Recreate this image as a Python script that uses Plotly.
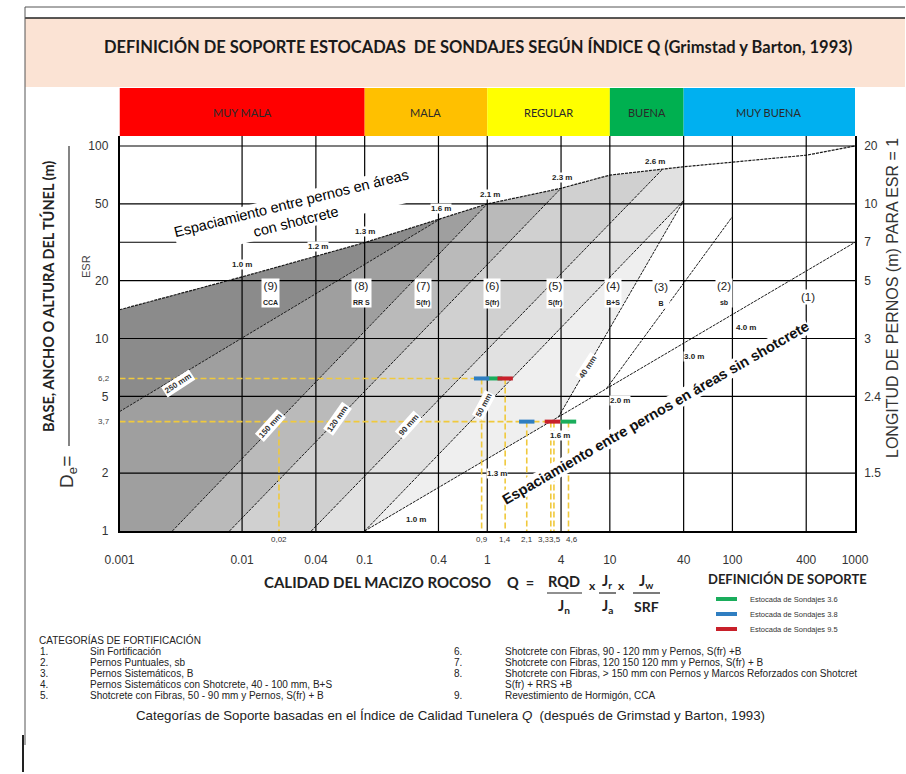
import math
import plotly.graph_objects as go

W, H = 906, 774

# ---------------- data ----------------
q_tick_vals = [0.001, 0.01, 0.04, 0.1, 0.4, 1, 4, 10, 40, 100, 400, 1000]
q_tick_text = ["0.001", "0.01", "0.04", "0.1", "0.4", "1", "4", "10", "40", "100", "400", "1000"]
q_grid = [0.01, 0.04, 0.1, 0.4, 1, 4, 10, 40, 100, 400]

de_tick_vals = [1, 2, 5, 10, 20, 50, 100]
de_tick_text = ["1", "2", "5", "10", "20", "50", "100"]
de_grid = [2, 5, 10, 20, 31.62, 50, 100]

bolt_tick_de = [100, 50, 31.62, 20, 10, 5, 2]
bolt_tick_text = ["20", "10", "7", "5", "3", "2.4", "1.5"]

quality_names = ["MUY MALA", "MALA", "REGULAR", "BUENA", "MUY BUENA"]
quality_edges = [0.001, 0.1, 1, 10, 40, 1000]
quality_colors = ["#ff0000", "#ffc000", "#ffff00", "#00b050", "#00b0f0"]

# upper envelope: bolt spacing in shotcreted areas
env_q = [0.001, 0.01, 0.1, 1, 4, 10, 40, 100, 400, 1000]
env_de = [14.1, 20.9, 31.5, 50, 60.3, 70.6, 78, 82.6, 89.6, 100]
env_spacing = ["1.0 m", "1.2 m", "1.3 m", "1.6 m", "2.1 m", "2.3 m", "2.6 m"]
env_spacing_q = [0.0099, 0.042, 0.10, 0.42, 1.06, 4.07, 23.5]
env_spacing_de = [24.1, 30.0, 35.9, 47.1, 56.3, 68.4, 82.9]

# bolt spacing in areas without shotcrete
nosc_q = [0.1, 1000]
nosc_de = [1, 31.6]
nosc_spacing = ["1.0 m", "1.3 m", "1.6 m", "2.0 m", "3.0 m", "4.0 m"]
nosc_spacing_q = [0.26, 1.2, 3.94, 12.2, 49, 130]
nosc_spacing_de = [1.15, 1.98, 3.15, 4.79, 8.1, 11.4]

# support category boundaries
b250_q, b250_de = [0.001, 0.42], [4.17, 42.0]
b150_q, b150_de = [0.0027, 1], [1, 50]
b120_q, b120_de = [0.0079, 4], [1, 60.3]
b90_q, b90_de = [0.0367, 27], [1, 75.9]
b50_q, b50_de = [0.1, 40], [1, 52]
b40_q, b40_de = [3.8, 40], [3.9, 52]
b23_q, b23_de = [9.4, 100], [5.5, 43]

thk_text = ["250 mm", "150 mm", "120 mm", "90 mm", "50 mm", "40 mm"]
thk_q = [0.003, 0.017, 0.06, 0.226, 0.93, 6.55]
thk_de = [5.87, 3.55, 3.86, 3.55, 4.51, 7.11]
thk_angle = [-33, -48, -55, -48, -62, -57]

cat_num = ["(9)", "(8)", "(7)", "(6)", "(5)", "(4)", "(3)", "(2)", "(1)"]
cat_sub = ["CCA", "RR S", "S(fr)", "S(fr)", "S(fr)", "B+S", "B", "sb", ""]
cat_q = [0.017, 0.095, 0.30, 1.1, 3.6, 10.6, 26, 85, 415]
cat_de = [17.2, 17.2, 17.2, 17.2, 17.2, 17.2, 17.0, 17.2, 16.5]

# working points of the drifts (estocadas)
guide_de = [6.2, 3.7]
guide_q_high = [0.9, 1.4]
guide_q_low = [0.02, 2.1, 3.3, 3.5, 4.6]
guide_labels_high = ["0,9", "1,4"]
guide_labels_low = ["0,02", "2,1", "3,3", "3,5", "4,6"]

sondaje_names = ["Estocada de Sondajes 3.6", "Estocada de Sondajes 3.8", "Estocada de Sondajes 9.5"]
sondaje_colors = ["#1aad5c", "#2f7ec1", "#c8202a"]
sondaje_q = [[1.15, 4.6], [0.9, 2.1], [1.4, 3.4]]
sondaje_de = [[6.2, 3.7], [6.2, 3.7], [6.2, 3.7]]

region_colors = ["#8b8b8b", "#9f9f9f", "#bababa", "#d0d0d0", "#e1e1e1", "#efefef"]

categories_left = [
    ("1.", "Sin Fortificación"),
    ("2.", "Pernos Puntuales, sb"),
    ("3.", "Pernos Sistemáticos, B"),
    ("4.", "Pernos Sistemáticos con Shotcrete, 40 - 100 mm, B+S"),
    ("5.", "Shotcrete con Fibras, 50 - 90 mm y Pernos, S(fr) + B"),
]
categories_right = [
    ("6.", "Shotcrete con Fibras, 90 - 120 mm y Pernos, S(fr) +B"),
    ("7.", "Shotcrete con Fibras, 120 150 120 mm y Pernos, S(fr) + B"),
    ("8.", "Shotcrete con Fibras, > 150 mm con Pernos y Marcos Reforzados con Shotcret"),
    ("", "S(fr) + RRS +B"),
    ("9.", "Revestimiento de Hormigón, CCA"),
]

# ---------------- helpers ----------------
SANS = "Liberation Sans, Arial, sans-serif"
HUM = "Lato, Liberation Sans, sans-serif"

x_dom = [119.5 / W, 855 / W]
y_dom = [1 - 531 / H, 1 - 136 / H]
y_top_log = 2 + 10 / 192.5
bar_dom = [1 - 136 / H, 1 - 88 / H]


def P(xp, yp):
    return xp / W, 1 - yp / H


def lg(v):
    return math.log10(v)


def env_at(q):
    lq = lg(q)
    for i in range(len(env_q) - 1):
        a, b = lg(env_q[i]), lg(env_q[i + 1])
        if a <= lq <= b:
            t = (lq - a) / (b - a)
            return 10 ** (lg(env_de[i]) + t * (lg(env_de[i + 1]) - lg(env_de[i])))
    return env_de[-1]


def env_path(q0, q1):
    pts = [(q0, env_at(q0))]
    pts += [(q, d) for q, d in zip(env_q, env_de) if q0 < q < q1]
    pts.append((q1, env_at(q1)))
    return pts


fig = go.Figure()

# ---------------- shaded support categories ----------------
regions = [
    env_path(env_q[0], b250_q[1]) + [(b250_q[0], b250_de[0])],
    list(zip(b250_q, b250_de)) + env_path(b250_q[1], b150_q[1])[1:]
    + [(b150_q[0], b150_de[0]), (env_q[0], 1)],
    list(zip(b150_q, b150_de)) + env_path(b150_q[1], b120_q[1])[1:] + [(b120_q[0], b120_de[0])],
    list(zip(b120_q, b120_de)) + env_path(b120_q[1], b90_q[1])[1:] + [(b90_q[0], b90_de[0])],
    list(zip(b90_q, b90_de)) + env_path(b90_q[1], b50_q[1])[1:]
    + [(b50_q[1], b50_de[1]), (b50_q[0], b50_de[0])],
    list(zip(b50_q, b50_de)) + [(b40_q[0], b40_de[0])],
]
for pts, col in zip(regions, region_colors):
    xs = [p[0] for p in pts] + [pts[0][0]]
    ys = [p[1] for p in pts] + [pts[0][1]]
    fig.add_trace(go.Scatter(x=xs, y=ys, mode="lines", fill="toself", fillcolor=col,
                             line=dict(width=0), hoverinfo="skip"))

# boundary lines
for bq, bd in [(b250_q, b250_de), (b150_q, b150_de), (b120_q, b120_de), (b90_q, b90_de),
               (b50_q, b50_de), (b40_q, b40_de), (b23_q, b23_de), (nosc_q, nosc_de)]:
    fig.add_trace(go.Scatter(x=bq, y=bd, mode="lines",
                             line=dict(color="#1a1a1a", width=1, dash="3px,1px"), hoverinfo="skip"))
fig.add_trace(go.Scatter(x=env_q, y=env_de, mode="lines",
                         line=dict(color="#1a1a1a", width=1.2, dash="3px,1px"), hoverinfo="skip"))

# ---------------- grid ----------------
gx, gy = [], []
for d in de_grid:
    gx += [q_tick_vals[0], q_tick_vals[-1], None]
    gy += [d, d, None]
for q in q_grid:
    gx += [q, q, None]
    gy += [1, 10 ** y_top_log, None]
fig.add_trace(go.Scatter(x=gx, y=gy, mode="lines", line=dict(color="black", width=1.2),
                         hoverinfo="skip"))

# ---------------- guide lines for the drifts ----------------
yellow = "#f0c93c"
ux, uy = [], []
for k, (d, qs) in enumerate(zip(guide_de, [guide_q_high, guide_q_low])):
    q_end = max(q[k] for q in sondaje_q)
    ux += [q_tick_vals[0], q_end, None]
    uy += [d, d, None]
    for q in qs:
        ux += [q, q, None]
        uy += [d, 1, None]
fig.add_trace(go.Scatter(x=ux, y=uy, mode="lines",
                         line=dict(color=yellow, width=1.6, dash="6px,3px"), hoverinfo="skip"))

for name, col, qs, ds in zip(sondaje_names, sondaje_colors, sondaje_q, sondaje_de):
    fig.add_trace(go.Scatter(x=qs, y=ds, mode="markers", name=name,
                             marker=dict(symbol="line-ew", size=11, color=col,
                                         line=dict(color=col, width=4)),
                             hoverinfo="skip"))

# invisible trace so the right axis is drawn
fig.add_trace(go.Scatter(x=[1], y=[1], yaxis="y2", mode="markers",
                         marker=dict(opacity=0), hoverinfo="skip"))

# ---------------- quality bar ----------------
for i, (nm, col) in enumerate(zip(quality_names, quality_colors)):
    q0, q1 = quality_edges[i], quality_edges[i + 1]
    fig.add_trace(go.Scatter(x=[q0, q1, q1, q0, q0], y=[0, 0, 1, 1, 0], xaxis="x2", yaxis="y3",
                             mode="lines", fill="toself", fillcolor=col, line=dict(width=0),
                             hoverinfo="skip"))

ann = []
for i, nm in enumerate(quality_names):
    q0, q1 = quality_edges[i], quality_edges[i + 1]
    ann.append(dict(x=(lg(q0) + lg(q1)) / 2, y=0.5, xref="x2", yref="y3", text=nm,
                    font=dict(family=HUM, size=11, color="#2a2a2a")))

# ---------------- labels inside the chart ----------------
for t, q, d in zip(env_spacing, env_spacing_q, env_spacing_de):
    ann.append(dict(x=lg(q), y=lg(d), xref="x", yref="y", text="<b>%s</b>" % t,
                    font=dict(family=SANS, size=8, color="#222"), bgcolor="white", borderpad=0))
for t, q, d in zip(nosc_spacing, nosc_spacing_q, nosc_spacing_de):
    ann.append(dict(x=lg(q), y=lg(d), xref="x", yref="y", text="<b>%s</b>" % t,
                    font=dict(family=SANS, size=8, color="#222"), bgcolor="white", borderpad=0))
for t, q, d, a in zip(thk_text, thk_q, thk_de, thk_angle):
    ann.append(dict(x=lg(q), y=lg(d), xref="x", yref="y", text="<b>%s</b>" % t, textangle=a,
                    font=dict(family=SANS, size=8, color="#333"), bgcolor="white", borderpad=1))
for n, s, q, d in zip(cat_num, cat_sub, cat_q, cat_de):
    txt = n if not s else "%s<br><span style='font-size:7px'><b>%s</b></span>" % (n, s)
    ann.append(dict(x=lg(q), y=lg(d), xref="x", yref="y", text=txt,
                    font=dict(family=SANS, size=11.5, color="#222"), bgcolor="white", borderpad=1))

ann.append(dict(x=lg(0.0262), y=lg(45.4), xref="x", yref="y",
                text="Espaciamiento entre pernos en áreas<br>con shotcrete", textangle=-14,
                font=dict(family=SANS, size=14.5, color="black"), bgcolor="white", borderpad=0))
ann.append(dict(x=lg(23.5), y=lg(4.1), xref="x", yref="y",
                text="<b>Espaciamiento entre pernos en áreas sin shotcrete</b>", textangle=-30,
                font=dict(family=SANS, size=14.5, color="#111"), bgcolor="white", borderpad=0))

# guide value labels under the axis
for labs, qs in [(guide_labels_high, guide_q_high), (guide_labels_low, guide_q_low)]:
    for t, q in zip(labs, qs):
        shift = {"3,3": -7, "3,5": 1, "4,6": 4}.get(t, 0)
        ann.append(dict(x=lg(q), y=P(0, 539)[1], xref="x", yref="paper", text=t, xshift=shift,
                        font=dict(family=SANS, size=8, color="#333"), bgcolor="white", borderpad=0))

# small ESR values on the left axis
for t, d in [("6,2", 6.2), ("3,7", 3.7)]:
    ann.append(dict(x=P(112, 0)[0], y=lg(d), xref="paper", yref="y", text=t, xanchor="right",
                    font=dict(family=SANS, size=8, color="#444")))

# ---------------- titles ----------------
ann += [
    dict(x=P(478, 0)[0], y=P(0, 47)[1], xref="paper", yref="paper",
         text="<b>DEFINICIÓN DE SOPORTE ESTOCADAS  DE SONDAJES SEGÚN ÍNDICE Q (Grimstad y Barton, 1993)</b>",
         font=dict(family=HUM, size=16.5, color="#1a1a1a")),
    dict(x=P(48, 0)[0], y=P(0, 297)[1], xref="paper", yref="paper", textangle=-90,
         text="<b>BASE, ANCHO O ALTURA DEL TÚNEL (m)</b>", font=dict(family=HUM, size=14.5, color="#222")),
    dict(x=P(86, 0)[0], y=P(0, 267)[1], xref="paper", yref="paper", textangle=-90,
         text="ESR", font=dict(family=SANS, size=11, color="#444")),
    dict(x=P(68, 0)[0], y=P(0, 472)[1], xref="paper", yref="paper", textangle=-90,
         text="D<sub>e</sub>=", font=dict(family=SANS, size=19, color="#333")),
    dict(x=P(893, 0)[0], y=P(0, 298)[1], xref="paper", yref="paper", textangle=-90,
         text="LONGITUD DE PERNOS (m) PARA ESR = 1", font=dict(family=SANS, size=16, color="#333")),
    dict(x=P(377, 0)[0], y=P(0, 582)[1], xref="paper", yref="paper",
         text="<b>CALIDAD DEL MACIZO ROCOSO</b>", font=dict(family=HUM, size=15, color="#222")),
    dict(x=P(520, 0)[0], y=P(0, 582)[1], xref="paper", yref="paper",
         text="<b>Q  =</b>", font=dict(family=HUM, size=14.5, color="#222")),
    dict(x=P(564, 0)[0], y=P(0, 581)[1], xref="paper", yref="paper",
         text="<b>RQD</b>", font=dict(family=HUM, size=14.5, color="#222")),
    dict(x=P(564, 0)[0], y=P(0, 606)[1], xref="paper", yref="paper",
         text="<b>J<sub>n</sub></b>", font=dict(family=HUM, size=14.5, color="#222")),
    dict(x=P(592, 0)[0], y=P(0, 585)[1], xref="paper", yref="paper",
         text="<b>x</b>", font=dict(family=HUM, size=12, color="#222")),
    dict(x=P(607, 0)[0], y=P(0, 581)[1], xref="paper", yref="paper",
         text="<b>J<sub>r</sub></b>", font=dict(family=HUM, size=14.5, color="#222")),
    dict(x=P(607, 0)[0], y=P(0, 606)[1], xref="paper", yref="paper",
         text="<b>J<sub>a</sub></b>", font=dict(family=HUM, size=14.5, color="#222")),
    dict(x=P(621, 0)[0], y=P(0, 585)[1], xref="paper", yref="paper",
         text="<b>x</b>", font=dict(family=HUM, size=12, color="#222")),
    dict(x=P(646, 0)[0], y=P(0, 581)[1], xref="paper", yref="paper",
         text="<b>J<sub>w</sub></b>", font=dict(family=HUM, size=14.5, color="#222")),
    dict(x=P(646, 0)[0], y=P(0, 606)[1], xref="paper", yref="paper",
         text="<b>SRF</b>", font=dict(family=HUM, size=14, color="#222")),
    dict(x=P(787, 0)[0], y=P(0, 579)[1], xref="paper", yref="paper",
         text="<b>DEFINICIÓN DE SOPORTE</b>", font=dict(family=HUM, size=13, color="#222")),
]
for i, name in enumerate(sondaje_names):
    ann.append(dict(x=P(748, 0)[0], y=P(0, 599 + 15 * i)[1], xref="paper", yref="paper",
                    xanchor="left", text=name, font=dict(family=SANS, size=7.5, color="#333")))

# categories list
ann.append(dict(x=P(37, 0)[0], y=P(0, 640)[1], xref="paper", yref="paper", xanchor="left",
                text="CATEGORÍAS DE FORTIFICACIÓN", font=dict(family=SANS, size=10, color="#222")))
for col_items, xn, xt in [(categories_left, 38, 88), (categories_right, 452, 503)]:
    for i, (n, t) in enumerate(col_items):
        yy = P(0, 651.5 + 11 * i)[1]
        if n:
            ann.append(dict(x=P(xn, 0)[0], y=yy, xref="paper", yref="paper", xanchor="left", text=n,
                            font=dict(family=SANS, size=10, color="#222")))
        ann.append(dict(x=P(xt, 0)[0], y=yy, xref="paper", yref="paper", xanchor="left", text=t,
                        font=dict(family=SANS, size=10, color="#222")))

ann.append(dict(x=P(450, 0)[0], y=P(0, 715)[1], xref="paper", yref="paper",
                text="Categorías de Soporte basadas en el Índice de Calidad Tunelera <i>Q</i>  (después de Grimstad y Barton, 1993)",
                font=dict(family=SANS, size=13.3, color="#222")))

for a in ann:
    a.setdefault("showarrow", False)
    a.setdefault("xanchor", "center")
    a.setdefault("yanchor", "middle")

# ---------------- frame shapes ----------------
R = 905 / W
shapes = [
    dict(type="rect", xref="paper", yref="paper", x0=P(25, 0)[0], x1=R, y0=P(0, 87)[1], y1=P(0, 18)[1],
         fillcolor="#fbe3d4", line=dict(width=0), layer="below"),
    dict(type="line", xref="paper", yref="paper", x0=P(25, 0)[0], x1=R, y0=P(0, 7)[1], y1=P(0, 7)[1],
         line=dict(color="#555", width=1)),
    dict(type="line", xref="paper", yref="paper", x0=P(25, 0)[0], x1=R, y0=P(0, 18)[1], y1=P(0, 18)[1],
         line=dict(color="#222", width=1.5)),
    dict(type="line", xref="paper", yref="paper", x0=P(25, 0)[0], x1=P(25, 0)[0], y0=P(0, 7)[1],
         y1=P(0, 745)[1], line=dict(color="#555", width=1)),
    dict(type="line", xref="paper", yref="paper", x0=P(23, 0)[0], x1=P(23, 0)[0], y0=P(0, 735)[1],
         y1=P(0, 772)[1], line=dict(color="#222", width=2)),
    dict(type="line", xref="paper", yref="paper", x0=P(69, 0)[0], x1=P(69, 0)[0], y0=P(0, 146)[1],
         y1=P(0, 446)[1], line=dict(color="#333", width=1.2)),
    # fraction bars of the Q formula
    dict(type="line", xref="paper", yref="paper", x0=P(547, 0)[0], x1=P(582, 0)[0], y0=P(0, 593)[1],
         y1=P(0, 593)[1], line=dict(color="#222", width=1.2)),
    dict(type="line", xref="paper", yref="paper", x0=P(599, 0)[0], x1=P(616, 0)[0], y0=P(0, 593)[1],
         y1=P(0, 593)[1], line=dict(color="#222", width=1.2)),
    dict(type="line", xref="paper", yref="paper", x0=P(633, 0)[0], x1=P(660, 0)[0], y0=P(0, 593)[1],
         y1=P(0, 593)[1], line=dict(color="#222", width=1.2)),
]
for i, col in enumerate(sondaje_colors):
    yy = P(0, 599 + 15 * i)[1]
    shapes.append(dict(type="line", xref="paper", yref="paper", x0=P(716, 0)[0], x1=P(737, 0)[0],
                       y0=yy, y1=yy, line=dict(color=col, width=4)))

tickfont = dict(family=SANS, size=12, color="#333")
hidden = dict(visible=False, showticklabels=False, ticks="", showgrid=False, zeroline=False)
fig.update_layout(
    width=W, height=H, margin=dict(l=0, r=0, t=0, b=0, autoexpand=False),
    paper_bgcolor="white", plot_bgcolor="white", showlegend=False,
    xaxis=dict(type="log", range=[-3, 3], domain=x_dom, anchor="y", showgrid=False, zeroline=False,
               showline=True, linecolor="black", linewidth=1.5, tickvals=q_tick_vals,
               ticktext=q_tick_text, ticks="", ticklabelstandoff=17, tickfont=tickfont),
    yaxis=dict(type="log", range=[0, y_top_log], domain=y_dom, anchor="x", showgrid=False,
               zeroline=False, showline=True, linecolor="black", linewidth=1.5,
               tickvals=de_tick_vals, ticktext=de_tick_text, ticks="", ticklabelstandoff=7,
               tickfont=tickfont),
    yaxis2=dict(type="log", range=[0, y_top_log], overlaying="y", side="right", anchor="x",
                showgrid=False, zeroline=False, showline=True, linecolor="black", linewidth=1.5,
                tickvals=bolt_tick_de, ticktext=bolt_tick_text, ticks="", ticklabelstandoff=5,
                tickfont=tickfont),
    xaxis2=dict(type="log", range=[-3, 3], domain=x_dom, anchor="y3", **hidden),
    yaxis3=dict(range=[0, 1], domain=bar_dom, anchor="x2", **hidden),
    annotations=ann,
    shapes=shapes,
)

fig.write_html("out.html")
